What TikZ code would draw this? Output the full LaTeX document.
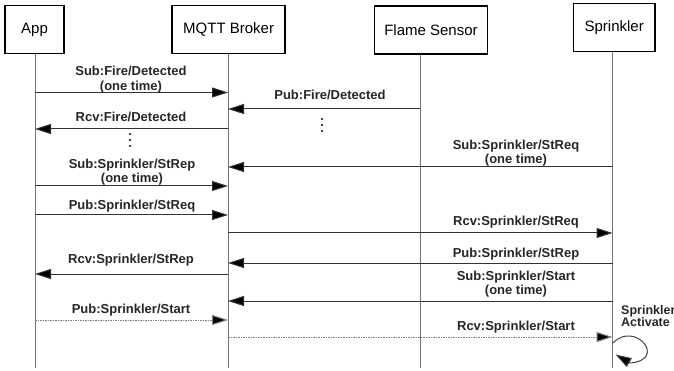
\documentclass[tikz,border=0pt]{standalone}
\usepackage{fontspec}
\setmainfont{Liberation Sans}
\usetikzlibrary{arrows.meta}
\begin{document}
\begin{tikzpicture}[x=1pt,y=-1pt,
  actor/.style={draw=black,line width=1.3pt,fill=white,inner sep=0pt,font=\fontsize{15}{17}\selectfont},
  life/.style={draw=black!55,line width=1pt},
  msg/.style={draw=black!80,line width=1pt,-{Triangle[length=16pt,width=10pt,fill=black]}},
  async/.style={msg,draw=black!50,dash pattern=on 1.5pt off 1pt},
  loopline/.style={draw=black!75,line width=1pt},
  lbl/.style={font=\bfseries\fontsize{13}{14.5}\selectfont,align=center,inner sep=0pt,text=black!85},
  dotmark/.style={fill=black,circle,inner sep=0pt,minimum size=2.4pt}
]
\useasboundingbox (0,0) rectangle (674,371);
% lifelines
\coordinate (lA) at (35,53);   \coordinate (lAb) at (35,368);
\coordinate (lB) at (228,53);  \coordinate (lBb) at (228,368);
\coordinate (lF) at (420,54);  \coordinate (lFb) at (420,368);
\coordinate (lS) at (612.5,52);\coordinate (lSb) at (612.5,368);
\draw[life] (lA) -- (lAb);
\draw[life] (lB) -- (lBb);
\draw[life] (lF) -- (lFb);
\draw[life] (lS) -- (lSb);
% actors
\node[actor,minimum width=59pt,minimum height=47.5pt] (app) at (34.5,29.5) {App};
\node[actor,minimum width=113pt,minimum height=47.5pt] (broker) at (228.6,29.5) {MQTT Broker};
\node[actor,minimum width=113.5pt,minimum height=48pt] (flame) at (431,30) {Flame Sensor};
\node[actor,minimum width=81.5pt,minimum height=48.5pt] (sprk) at (614.2,27.5) {\raisebox{1pt}{Sprinkler}};
% messages
\draw[msg] (lA |- 0,92.5) -- (lB |- 0,92.5);
\node[lbl] (t1) at (131,79.5) {Sub:Fire/Detected\\(one time)};
\draw[msg] (lF |- 0,109) -- (lB |- 0,109);
\node[lbl] (t2) at (330,95) {Pub:Fire/Detected};
\draw[msg] (lB |- 0,129) -- (lA |- 0,129);
\node[lbl] (t3) at (131,117) {Rcv:Fire/Detected};
\node[dotmark] (d1) at (130,134) {};
\node[dotmark] (d2) at (130,140) {};
\node[dotmark] (d3) at (130,146) {};
\node[dotmark] (d4) at (322,119) {};
\node[dotmark] (d5) at (322,125) {};
\node[dotmark] (d6) at (322,131) {};
\draw[msg] (lS |- 0,167) -- (lB |- 0,167);
\node[lbl] (t4) at (516,153) {Sub:Sprinkler/StReq\\(one time)};
\draw[msg] (lA |- 0,186) -- (lB |- 0,186);
\node[lbl] (t5) at (132,172) {Sub:Sprinkler/StRep\\(one time)};
\draw[msg] (lA |- 0,215) -- (lB |- 0,215);
\node[lbl] (t6) at (132,206) {Pub:Sprinkler/StReq};
\draw[msg] (lB |- 0,233) -- (lS |- 0,233);
\node[lbl] (t7) at (516,222) {Rcv:Sprinkler/StReq};
\draw[msg] (lS |- 0,263) -- (lB |- 0,263);
\node[lbl] (t8) at (516,254) {Pub:Sprinkler/StRep};
\draw[msg] (lB |- 0,274) -- (lA |- 0,274);
\node[lbl] (t9) at (131,260) {Rcv:Sprinkler/StRep};
\draw[msg] (lS |- 0,301) -- (lB |- 0,301);
\node[lbl] (t10) at (516,284) {Sub:Sprinkler/Start\\(one time)};
\draw[async] (lA |- 0,320) -- (lB |- 0,320);
\node[lbl] (t11) at (131,310) {Pub:Sprinkler/Start};
\draw[async] (lB |- 0,337) -- (lS |- 0,337);
\node[lbl] (t12) at (516,327) {Rcv:Sprinkler/Start};
% self loop
\coordinate (ls1) at (613,343);
\coordinate (ls3) at (630,363);
\coordinate (ls2) at (615.5,354.5);
\draw[loopline] (ls1) .. controls (635,320) and (668,360) .. (ls3);
\draw[msg,draw=black!75] (ls3) -- (ls2);
\node[lbl,anchor=west,align=left,font=\bfseries\fontsize{12.5}{11.5}\selectfont] (act) at (621,316) {Sprinkler\\Activate};
\end{tikzpicture}
\end{document}
